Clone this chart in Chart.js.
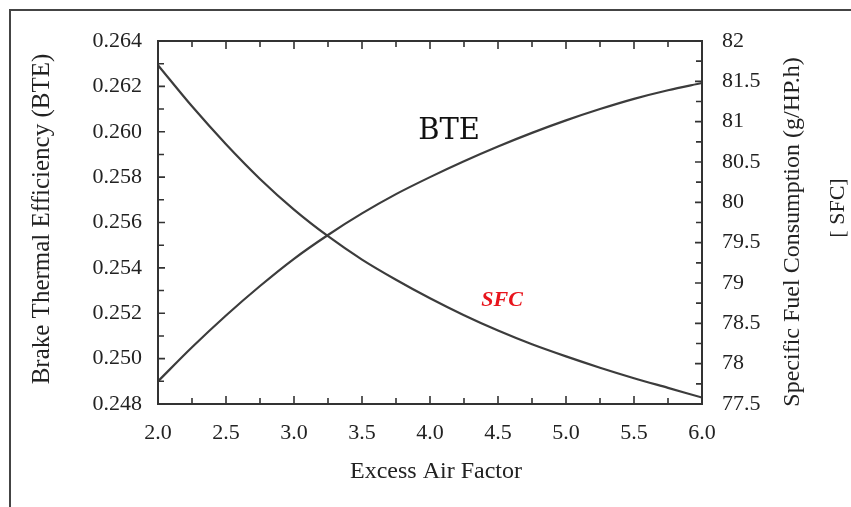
<!DOCTYPE html>
<html>
<head>
<meta charset="utf-8">
<script src="https://cdn.jsdelivr.net/npm/chart.js@4/dist/chart.umd.min.js"></script>
<style>
  html, body { margin: 0; padding: 0; background: #fff; }
  canvas { display: block; }
</style>
</head>
<body>
<canvas id="c" width="851" height="507"></canvas>
<script>
// Excess air factor (x) and the two engine responses
const excessAir = [2.0, 2.25, 2.5, 2.75, 3.0, 3.25, 3.5, 3.75, 4.0, 4.25, 4.5, 4.75, 5.0, 5.25, 5.5, 5.75, 6.0];
const bte = [0.24900, 0.25050, 0.25190, 0.25320, 0.25440, 0.25545, 0.25640, 0.25725, 0.25800, 0.25870, 0.25935, 0.25995, 0.26050, 0.26100, 0.26145, 0.26183, 0.26215];
const sfc = [81.70, 81.19, 80.72, 80.29, 79.91, 79.58, 79.29, 79.04, 78.81, 78.60, 78.41, 78.24, 78.09, 77.95, 77.82, 77.70, 77.58];

// Axis ranges and tick steps
const xRange = [2.0, 6.0];
const bteRange = [0.248, 0.264];
const sfcRange = [77.5, 82];
const xLabelStep = 0.5, xMinorStep = 0.25;
const bteLabelStep = 0.002, bteMinorStep = 0.001;
const sfcLabelStep = 0.5, sfcMinorStep = 0.25;

// Text
const xTitle = 'Excess Air Factor';
const bteTitle = 'Brake Thermal Efficiency (BTE)';
const sfcTitle = 'Specific Fuel Consumption (g/HP.h)';
const sfcTag = '[ SFC]';
const bteNote = { text: 'BTE', x: 4.14, y: 0.2600 };
const sfcNote = { text: 'SFC', x: 4.53, y: 78.78 };

const INK = '#222';
const LINE = '#3c3c3c';
const SERIF = '"Liberation Serif", "Times New Roman", serif';

function stepsBetween(lo, hi, step) {
  const out = [];
  const n = Math.round((hi - lo) / step);
  for (let i = 0; i <= n; i++) out.push(lo + i * step);
  return out;
}

const decor = {
  id: 'decor',
  afterDraw(chart) {
    const { ctx, chartArea: a, scales } = chart;
    const sx = scales.x, sy = scales.y, s2 = scales.y2;
    ctx.save();

    // outer page frame (left and top edges)
    ctx.strokeStyle = '#444';
    ctx.lineWidth = 2;
    ctx.beginPath();
    ctx.moveTo(10, 507);
    ctx.lineTo(10, 10);
    ctx.lineTo(851, 10);
    ctx.stroke();

    // plot frame
    ctx.strokeStyle = '#333';
    ctx.lineWidth = 2;
    ctx.strokeRect(a.left, a.top, a.right - a.left, a.bottom - a.top);

    // inward tick marks on all four sides
    ctx.lineWidth = 1.6;
    ctx.beginPath();
    stepsBetween(xRange[0], xRange[1], xMinorStep).forEach((v, i) => {
      const px = sx.getPixelForValue(v);
      const len = i % 2 === 0 ? 8 : 6;
      ctx.moveTo(px, a.bottom); ctx.lineTo(px, a.bottom - len);
      ctx.moveTo(px, a.top); ctx.lineTo(px, a.top + len);
    });
    stepsBetween(bteRange[0], bteRange[1], bteMinorStep).forEach((v, i) => {
      const py = sy.getPixelForValue(v);
      const len = i % 2 === 0 ? 7 : 6;
      ctx.moveTo(a.left, py); ctx.lineTo(a.left + len, py);
    });
    stepsBetween(sfcRange[0], sfcRange[1], sfcMinorStep).forEach((v, i) => {
      const py = s2.getPixelForValue(v);
      const len = i % 2 === 0 ? 7 : 6;
      ctx.moveTo(a.right, py); ctx.lineTo(a.right - len, py);
    });
    ctx.stroke();

    // axis titles
    ctx.fillStyle = INK;
    ctx.textAlign = 'center';
    ctx.textBaseline = 'middle';
    ctx.font = '24px ' + SERIF;
    ctx.fillText(xTitle, (a.left + a.right) / 2 + 6, 472);

    ctx.save();
    ctx.translate(42, 219);
    ctx.rotate(-Math.PI / 2);
    ctx.font = '25px ' + SERIF;
    ctx.fillText(bteTitle, 0, 0);
    ctx.restore();

    ctx.save();
    ctx.translate(793, 232);
    ctx.rotate(-Math.PI / 2);
    ctx.fillText(sfcTitle, 0, 0);
    ctx.restore();

    ctx.save();
    ctx.translate(838, 208);
    ctx.rotate(-Math.PI / 2);
    ctx.font = '22px ' + SERIF;
    ctx.fillText(sfcTag, 0, 0);
    ctx.restore();

    // curve labels
    ctx.font = '29px "DejaVu Serif", serif';
    ctx.fillStyle = '#111';
    ctx.fillText(bteNote.text, sx.getPixelForValue(bteNote.x), sy.getPixelForValue(bteNote.y));
    ctx.font = 'italic bold 22px ' + SERIF;
    ctx.fillStyle = '#e8141c';
    ctx.fillText(sfcNote.text, sx.getPixelForValue(sfcNote.x), s2.getPixelForValue(sfcNote.y));

    ctx.restore();
  }
};

const tickFont = { family: SERIF, size: 22 };
const noGrid = { display: false, drawTicks: false };

new Chart(document.getElementById('c'), {
  type: 'line',
  data: {
    datasets: [
      {
        label: 'BTE',
        data: excessAir.map((x, i) => ({ x, y: bte[i] })),
        yAxisID: 'y',
        borderColor: LINE,
        borderWidth: 2.2,
        pointRadius: 0,
        cubicInterpolationMode: 'monotone',
        fill: false
      },
      {
        label: 'SFC',
        data: excessAir.map((x, i) => ({ x, y: sfc[i] })),
        yAxisID: 'y2',
        borderColor: LINE,
        borderWidth: 2.2,
        pointRadius: 0,
        cubicInterpolationMode: 'monotone',
        fill: false
      }
    ]
  },
  options: {
    responsive: false,
    devicePixelRatio: 1,
    animation: false,
    layout: { padding: { top: 41, left: 0, right: 0, bottom: 0 } },
    plugins: { legend: { display: false }, tooltip: { enabled: false } },
    scales: {
      x: {
        type: 'linear',
        position: 'bottom',
        min: xRange[0], max: xRange[1],
        grid: noGrid,
        border: { display: false },
        ticks: {
          stepSize: xLabelStep,
          autoSkip: false,
          maxRotation: 0,
          padding: 16,
          font: tickFont,
          color: INK,
          callback: v => Number(v).toFixed(1)
        },
        afterFit: s => { s.height = 103; }
      },
      y: {
        type: 'linear',
        position: 'left',
        min: bteRange[0], max: bteRange[1],
        grid: noGrid,
        border: { display: false },
        ticks: {
          stepSize: bteLabelStep,
          autoSkip: false,
          padding: 16,
          font: tickFont,
          color: INK,
          callback: v => Number(v).toFixed(3)
        },
        afterFit: s => { s.width = 158; }
      },
      y2: {
        type: 'linear',
        position: 'right',
        min: sfcRange[0], max: sfcRange[1],
        grid: noGrid,
        border: { display: false },
        ticks: {
          stepSize: sfcLabelStep,
          autoSkip: false,
          padding: 20,
          font: tickFont,
          color: INK,
          callback: v => String(Number(Number(v).toFixed(1)))
        },
        afterFit: s => { s.width = 149; }
      }
    }
  },
  plugins: [decor]
});
</script>
</body>
</html>
